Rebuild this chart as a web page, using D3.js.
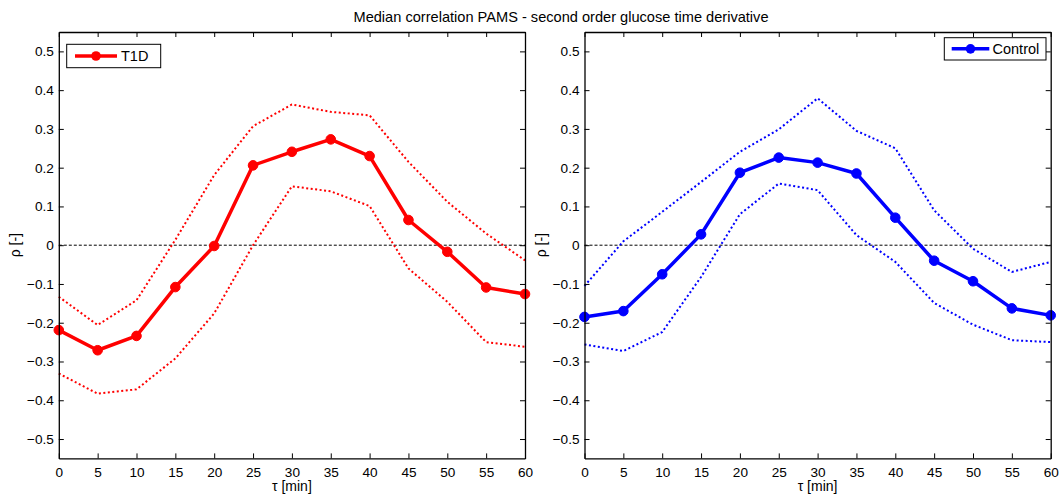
<!DOCTYPE html>
<html><head><meta charset="utf-8">
<script src="https://cdn.jsdelivr.net/npm/d3@7"></script>
<style>body{margin:0;background:#fff}svg{display:block}text{font-family:"Liberation Sans",Arial,sans-serif;fill:#000}</style>
</head><body><div id="chart"></div>
<script>
const taus = [0,5,10,15,20,25,30,35,40,45,50,55,60];
const t1dMedian = [-0.219,-0.271,-0.234,-0.108,-0.002,0.206,0.241,0.273,0.230,0.065,-0.017,-0.109,-0.126];
const t1dUpper  = [-0.133,-0.206,-0.142,0.014,0.181,0.307,0.363,0.344,0.335,0.215,0.112,0.030,-0.039];
const t1dLower  = [-0.331,-0.383,-0.372,-0.292,-0.176,0.000,0.152,0.139,0.101,-0.060,-0.146,-0.250,-0.262];
const ctlMedian = [-0.185,-0.170,-0.075,0.028,0.187,0.226,0.213,0.185,0.071,-0.040,-0.093,-0.163,-0.181];
const ctlUpper  = [-0.105,0.010,0.086,0.163,0.241,0.299,0.379,0.295,0.250,0.090,-0.009,-0.069,-0.043];
const ctlLower  = [-0.256,-0.273,-0.224,-0.082,0.080,0.159,0.142,0.026,-0.043,-0.149,-0.205,-0.245,-0.250];
const yTicks = [-0.5,-0.4,-0.3,-0.2,-0.1,0,0.1,0.2,0.3,0.4,0.5];
const xTicks = taus;
const titleText = "Median correlation PAMS - second order glucose time derivative";
const xLabel = "τ [min]";
const yLabel = "ρ [-]";

const W = 1059, H = 494;
const svg = d3.select("#chart").append("svg").attr("width", W).attr("height", H);

svg.append("text").attr("x", 561).attr("y", 22).attr("text-anchor","middle")
  .style("font-size","14.6px").text(titleText);

const panels = [
  {x0:58.8, x1:525, color:"#ff0000", med:t1dMedian, up:t1dUpper, lo:t1dLower, name:"T1D",
   leg:{x:66.7,y:44.3,w:94,h:23.4,l0:75,l1:117,tx:121}, ylab:20},
  {x0:584.5, x1:1050.7, color:"#0000ff", med:ctlMedian, up:ctlUpper, lo:ctlLower, name:"Control",
   leg:{x:944.3,y:37.7,w:101.7,h:22.3,l0:951.7,l1:989.3,tx:992.5}, ylab:546}
];
const yTop = 32, yBot = 458.4;

panels.forEach(p => {
  const x = d3.scaleLinear().domain([0,60]).range([p.x0,p.x1]);
  const y = d3.scaleLinear().domain([-0.55,0.55]).range([yBot,yTop]);
  const g = svg.append("g");

  // zero dashed line
  g.append("line").attr("x1",x(0)).attr("x2",x(60)).attr("y1",y(0)).attr("y2",y(0))
    .attr("stroke","#000").attr("stroke-width",1).attr("stroke-dasharray","3,2");

  const line = d3.line().x((d,i)=>x(taus[i])).y(d=>y(d));
  [p.up,p.lo].forEach(arr => {
    g.append("path").attr("d",line(arr)).attr("fill","none").attr("stroke",p.color)
      .attr("stroke-width",2).attr("stroke-dasharray","2,2.5");
  });
  g.append("path").attr("d",line(p.med)).attr("fill","none").attr("stroke",p.color)
    .attr("stroke-width",3.5).attr("stroke-linejoin","round");
  g.selectAll("circle.m").data(p.med).enter().append("circle")
    .attr("cx",(d,i)=>x(taus[i])).attr("cy",d=>y(d)).attr("r",4.8)
    .attr("fill",p.color).attr("stroke",p.color).attr("stroke-width",1);

  // axes (ticks inward, box)
  const fmt = d => d===0 ? "0" : d3.format(".1f")(d);
  const axL = d3.axisLeft(y).tickValues(yTicks).tickFormat(fmt).tickSizeInner(-5).tickSizeOuter(0).tickPadding(5);
  const axR = d3.axisRight(y).tickValues(yTicks).tickFormat("").tickSizeInner(-5).tickSizeOuter(0);
  const axB = d3.axisBottom(x).tickValues(xTicks).tickFormat(d3.format("d")).tickSizeInner(-5).tickSizeOuter(0).tickPadding(9);
  const axT = d3.axisTop(x).tickValues(xTicks).tickFormat("").tickSizeInner(-5).tickSizeOuter(0);
  const gl = g.append("g").attr("transform",`translate(${p.x0},0)`).call(axL);
  const gr = g.append("g").attr("transform",`translate(${p.x1},0)`).call(axR);
  const gb = g.append("g").attr("transform",`translate(0,${yBot})`).call(axB);
  const gt = g.append("g").attr("transform",`translate(0,${yTop})`).call(axT);
  [gl,gr,gb,gt].forEach(a => {
    a.selectAll("path").attr("stroke","#000").attr("stroke-width",1.3);
    a.selectAll("line").attr("stroke","#000").attr("stroke-width",1);
    a.selectAll("text").style("font-size","13.6px").style("font-family","'Liberation Sans',Arial,sans-serif").attr("fill","#000");
  });

  // axis labels
  g.append("text").attr("x",(p.x0+p.x1)/2).attr("y",491).attr("text-anchor","middle")
    .style("font-size","14px").text(xLabel);
  g.append("text").attr("transform",`translate(${p.ylab},${y(0)}) rotate(-90)`).attr("text-anchor","middle")
    .style("font-size","14px").text(yLabel);

  // legend
  const L = p.leg;
  g.append("rect").attr("x",L.x).attr("y",L.y).attr("width",L.w).attr("height",L.h)
    .attr("fill","#fff").attr("stroke","#000").attr("stroke-width",1);
  const ly = L.y + L.h/2;
  g.append("line").attr("x1",L.l0).attr("x2",L.l1).attr("y1",ly).attr("y2",ly)
    .attr("stroke",p.color).attr("stroke-width",3.5);
  g.append("circle").attr("cx",(L.l0+L.l1)/2).attr("cy",ly).attr("r",4.8).attr("fill",p.color);
  g.append("text").attr("x",L.tx).attr("y",ly+5).style("font-size","14.5px").text(p.name);
});
</script></body></html>
